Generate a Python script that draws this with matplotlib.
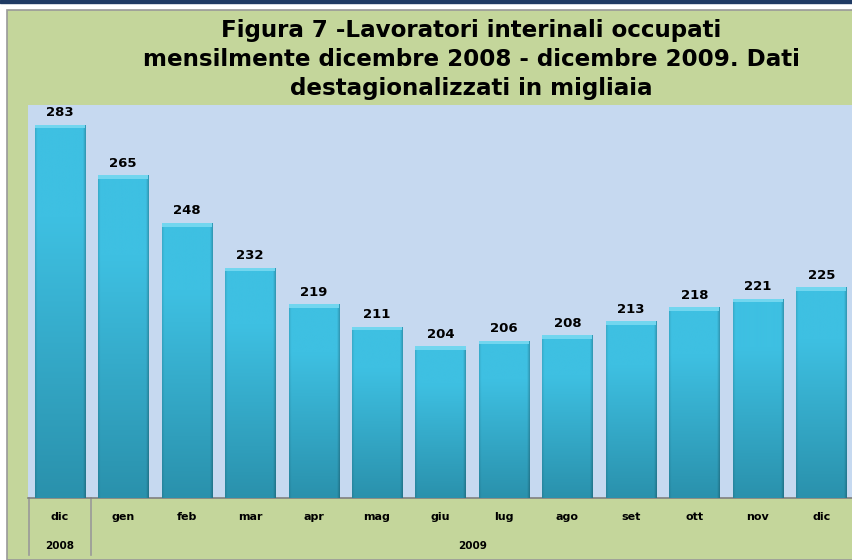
import matplotlib
matplotlib.use("Agg")
import matplotlib.pyplot as plt
import numpy as np
from matplotlib.patches import Rectangle
from matplotlib.lines import Line2D

# dati (migliaia)
mesi = ["dic", "gen", "feb", "mar", "apr", "mag", "giu", "lug", "ago", "set", "ott", "nov", "dic"]
anni = ["2008", "2009"]
valori = [283, 265, 248, 232, 219, 211, 204, 206, 208, 213, 218, 221, 225]

titolo = ["Figura 7 -Lavoratori interinali occupati",
          "mensilmente dicembre 2008 - dicembre 2009. Dati",
          "destagionalizzati in migliaia"]

W, H = 853, 560
fig = plt.figure(figsize=(W / 100, H / 100), dpi=100)
fig.patch.set_facecolor("white")

# cornice: barra blu in alto, area verde
fig.add_artist(Rectangle((0, 1 - 3 / H), 1, 3 / H, transform=fig.transFigure,
                         color="#1f3a64", zorder=0))
fig.add_artist(Rectangle((7 / W, 0), 1.0, (H - 10) / H, transform=fig.transFigure,
                         facecolor="#c4d69b", edgecolor="#999999", lw=1.2, zorder=0))

ax = fig.add_axes([28 / W, (H - 498) / H, 1 - 28 / W, (498 - 105) / H])
ax.set_facecolor("#c6d9f0")
for s in ["top", "right", "left"]:
    ax.spines[s].set_visible(False)
ax.spines["bottom"].set_color("#808080")
ax.spines["bottom"].set_linewidth(1.2)

x = np.arange(len(valori))
larg = 0.79
bars = ax.bar(x, valori, width=larg, color="#3bb8da", edgecolor="none", zorder=2)

# sfumatura delle barre
v = np.linspace(0, 1, 200)[:, None]
h = np.linspace(-1, 1, 60)[None, :]
top = np.array([62, 192, 226]) / 255
bot = np.array([42, 145, 172]) / 255
t = np.clip((v - 0.25) / 0.75, 0, 1)
img = top * (1 - t[..., None]) + bot * t[..., None]
img = img * np.ones((200, 60, 1))
edge = 1 - 0.2 * np.clip((h - 0.9) / 0.1, 0, 1) - 0.1 * np.clip((-h - 0.92) / 0.08, 0, 1)
img = img * edge[..., None]
for b in bars:
    bx, by = b.get_x(), b.get_y()
    bw, bh = b.get_width(), b.get_height()
    im = ax.imshow(img, extent=[bx, bx + bw, 150, by + bh], aspect="auto",
                   origin="upper", zorder=3)
    im.set_clip_path(b)
    # bordo superiore smussato
    ax.add_patch(Rectangle((bx, by + bh - 1.3), bw, 1.3, color="#72d6ef",
                           zorder=3.5, lw=0))
ax.set_ylim(150, 290)
ax.set_xlim(-0.5, len(valori) - 0.5)

for xi, val in zip(x, valori):
    ax.annotate(str(val), (xi, val), xytext=(0, 4), textcoords="offset points",
                ha="center", va="bottom", fontsize=9.5, fontweight="bold", zorder=4)

ax.set_xticks([])
ax.set_yticks([])

# asse a due livelli
trans = ax.get_xaxis_transform()
for xi, m in zip(x, mesi):
    ax.text(xi, -0.048, m, transform=trans, ha="center", va="center",
            fontsize=8, fontweight="bold")
ax.text(0, -0.122, anni[0], transform=trans, ha="center", va="center",
        fontsize=7.5, fontweight="bold")
ax.text((1 + len(valori) - 1) / 2, -0.122, anni[1], transform=trans,
        ha="center", va="center", fontsize=7.5, fontweight="bold")
for sx in [-0.49, 0.5]:
    ax.add_line(Line2D([sx, sx], [0, -0.145], transform=trans, color="#999999",
                       lw=1.2, clip_on=False))

# titolo, una riga alla volta
for riga, cy in zip(titolo, [31, 60, 88]):
    fig.text(471 / W, 1 - cy / H, riga, ha="center", va="center",
             fontsize=16.6, fontweight="bold")

fig.savefig("out.png", dpi=100)
